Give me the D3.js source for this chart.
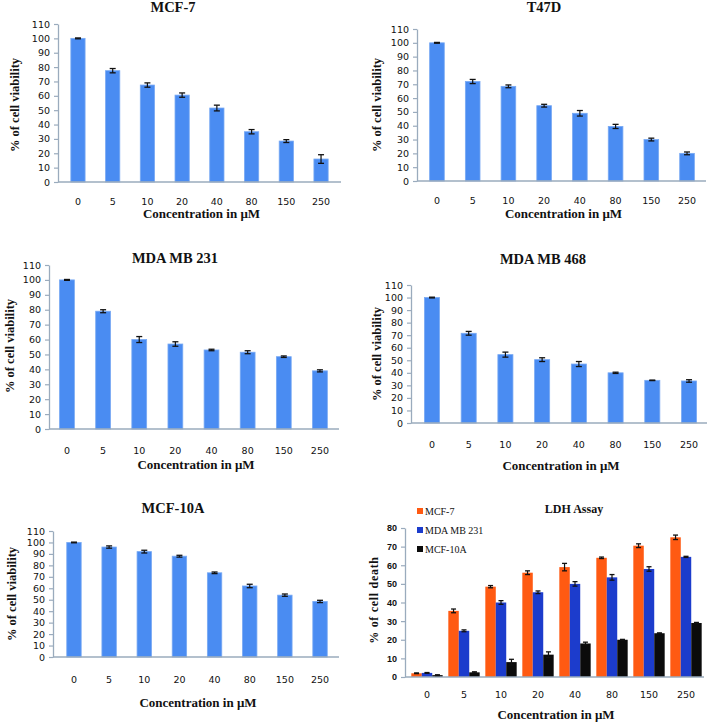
<!DOCTYPE html>
<html><head><meta charset="utf-8">
<script src="https://cdn.jsdelivr.net/npm/d3@7"></script>
<style>body{margin:0;background:#fff}svg{display:block}</style>
</head><body>
<svg id="c" width="709" height="723"></svg>
<script>
// ---- data ----
const concentrations = ["0","5","10","20","40","80","150","250"];
const viabilityTicks = [0,10,20,30,40,50,60,70,80,90,100,110];
const deathTicks = [0,10,20,30,40,50,60,70,80];

const mcf7Values   = [100, 77.5, 67.5, 60.5, 51.5, 35, 28.5, 16];
const mcf7Err      = [0.3, 1.5, 1.5, 1.5, 2, 1.5, 1, 3];
const t47dValues   = [100, 72, 68.5, 54.5, 49, 39.5, 30, 20];
const t47dErr      = [0.3, 1.5, 1, 1, 2, 1.5, 1, 1];
const mda231Values = [100, 79, 60, 57, 53, 51.5, 48.5, 39];
const mda231Err    = [0.3, 1, 2, 1.5, 0.5, 1, 0.5, 0.7];
const mda468Values = [100, 71.5, 54.5, 50.5, 47, 40, 34, 33.5];
const mda468Err    = [0.3, 1.5, 2, 1.5, 2, 0.5, 0.2, 1];
const mcf10aValues = [100, 96, 92, 88, 73.5, 62, 54, 48.5];
const mcf10aErr    = [0.3, 1, 1.2, 0.8, 0.7, 1.5, 1, 1];

const ldhSeries = ["MCF-7", "MDA MB 231", "MCF-10A"];
const ldhMcf7     = [2, 35.5, 48.5, 56, 59, 64, 70.5, 75];
const ldhMcf7Err  = [0.2, 1, 0.6, 1, 2, 0.4, 1, 1.2];
const ldhMda231    = [2.2, 24.8, 40, 45.5, 50, 53.5, 58, 64.5];
const ldhMda231Err = [0.2, 0.5, 1, 0.7, 1.2, 1.5, 1.2, 0.3];
const ldhMcf10a    = [1, 2.5, 8, 12, 18, 20, 23.5, 29];
const ldhMcf10aErr = [0.2, 0.3, 1.5, 1.5, 0.7, 0.2, 0.2, 0.3];

// ---- layout / style ----
const BAR = "#4a8cf2", BAR_EDGE = "#78a9f3", AXIS = "#9aabbd";
const SERIES_COLORS = ["#ff5a12", "#1c3ccc", "#0b0b0b"];
const svg = d3.select("#c");

const panels = [
  {title:"MCF-7", vals:mcf7Values, err:mcf7Err, x0:58, x1:341, band:[60.6,338.4], yTop:24, yBot:182,
   tx:173, ty:12, tickY:205, xtY:218, ytX:19, ytY:105},
  {title:"T47D", vals:t47dValues, err:t47dErr, x0:417, x1:706, band:[419.1,704.9], yTop:29, yBot:181,
   tx:544, ty:12, tickY:204, xtY:218, ytX:381, ytY:105},
  {title:"MDA MB 231", vals:mda231Values, err:mda231Err, x0:49, x1:339, band:[48.9,338], yTop:265, yBot:429,
   tx:175, ty:263, tickY:454, xtY:469, ytX:14, ytY:346},
  {title:"MDA MB 468", vals:mda468Values, err:mda468Err, x0:411, x1:707, band:[413.6,707.4], yTop:285, yBot:423,
   tx:543, ty:264, tickY:448, xtY:470, ytX:381, ytY:354},
  {title:"MCF-10A", vals:mcf10aValues, err:mcf10aErr, x0:53, x1:339, band:[56.4,337.6], yTop:531, yBot:657,
   tx:173, ty:513, tickY:683, xtY:707, ytX:16, ytY:594},
];

function drawAxes(g, p, y, ticks, tickFont) {
  const ya = g.append("g").attr("transform", `translate(${p.x0},0)`)
    .call(d3.axisLeft(y).tickValues(ticks).tickSize(4).tickPadding(4).tickSizeOuter(0));
  ya.select(".domain").attr("stroke", AXIS).attr("stroke-width", 1.3);
  ya.selectAll(".tick line").attr("stroke", AXIS).attr("stroke-width", 1.2);
  ya.selectAll(".tick text").attr("fill", "#111").style("font", tickFont);
  g.append("line").attr("x1", p.x0).attr("x2", p.x1).attr("y1", p.yBot).attr("y2", p.yBot)
    .attr("stroke", AXIS).attr("stroke-width", 1.3);
}

function labels(g, p, ytitle, ytSize, ls) {
  g.append("text").attr("x", p.tx).attr("y", p.ty).attr("text-anchor", "middle")
    .style("font", "bold 14.5px 'Liberation Serif', serif").attr("fill", "#111").text(p.title);
  g.append("text").attr("x", (p.x0 + p.x1) / 2 + 2).attr("y", p.xtY).attr("text-anchor", "middle")
    .style("font", "bold 13px 'Liberation Serif', serif").attr("fill", "#111").text("Concentration in μM");
  g.append("text").attr("transform", `translate(${p.ytX},${p.ytY}) rotate(-90)`).attr("text-anchor", "middle")
    .style("font", `bold ${ytSize}px 'Liberation Serif', serif`).style("letter-spacing", ls || "0px")
    .attr("fill", "#111").text(ytitle);
}

function errBars(g, xs, ys, vals, errs, cap) {
  vals.forEach((v, i) => {
    const cx = xs(i), e = errs[i];
    const top = ys(v + e), bot = ys(v - e);
    g.append("line").attr("x1", cx).attr("x2", cx).attr("y1", top).attr("y2", bot).attr("stroke", "#111").attr("stroke-width", 1.2);
    [top, bot].forEach(yy => g.append("line").attr("x1", cx - cap).attr("x2", cx + cap).attr("y1", yy).attr("y2", yy)
      .attr("stroke", "#111").attr("stroke-width", 1.3));
  });
}

panels.forEach(p => {
  const g = svg.append("g");
  const x = d3.scaleBand().domain(concentrations).range(p.band).paddingInner(0.59).paddingOuter(0.295);
  const y = d3.scaleLinear().domain([0, 110]).range([p.yBot, p.yTop]);
  g.selectAll("rect.bar").data(p.vals).join("rect").attr("class", "bar")
    .attr("x", (d, i) => x(concentrations[i])).attr("width", x.bandwidth())
    .attr("y", d => y(d)).attr("height", d => y(0) - y(d))
    .attr("fill", BAR).attr("stroke", BAR_EDGE).attr("stroke-width", 0.8);
  drawAxes(g, p, y, viabilityTicks, "9.5px 'DejaVu Sans', sans-serif");
  g.selectAll("text.xt").data(concentrations).join("text").attr("class", "xt")
    .attr("x", d => x(d) + x.bandwidth() / 2).attr("y", p.tickY).attr("text-anchor", "middle")
    .style("font", "9.5px 'DejaVu Sans', sans-serif").attr("fill", "#111").text(d => d);
  errBars(g, i => x(concentrations[i]) + x.bandwidth() / 2, y, p.vals, p.err, 3);
  labels(g, p, "% of cell viability", 12.5);
});

// ---- LDH grouped bar chart ----
(function () {
  const p = {title:"LDH Assay", x0:405, x1:704, yTop:528, yBot:677, tx:574, ty:513, xtY:719, ytX:378, ytY:600};
  const g = svg.append("g");
  const seriesVals = [ldhMcf7, ldhMda231, ldhMcf10a];
  const seriesErr = [ldhMcf7Err, ldhMda231Err, ldhMcf10aErr];
  const x = d3.scaleBand().domain(concentrations).range([408.5, 704.5]).padding(0);
  const xi = d3.scaleBand().domain(ldhSeries).range([0, x.bandwidth()]).paddingInner(0).paddingOuter(0.27);
  const y = d3.scaleLinear().domain([0, 80]).range([p.yBot, p.yTop]);
  ldhSeries.forEach((s, si) => {
    g.selectAll(null).data(seriesVals[si]).join("rect")
      .attr("x", (d, i) => x(concentrations[i]) + xi(s)).attr("width", xi.bandwidth())
      .attr("y", d => y(d)).attr("height", d => y(0) - y(d)).attr("fill", SERIES_COLORS[si]);
  });
  drawAxes(g, p, y, deathTicks, "bold 9px 'Liberation Sans', sans-serif");
  g.selectAll("text.xt").data(concentrations).join("text").attr("class", "xt")
    .attr("x", d => x(d) + x.bandwidth() / 2).attr("y", 698).attr("text-anchor", "middle")
    .style("font", "9.5px 'DejaVu Sans', sans-serif").attr("fill", "#111").text(d => d);
  ldhSeries.forEach((s, si) => {
    errBars(g, i => x(concentrations[i]) + xi(s) + xi.bandwidth() / 2, y, seriesVals[si], seriesErr[si], 2.5);
  });
  g.append("text").attr("x", p.tx).attr("y", p.ty).attr("text-anchor", "middle")
    .style("font", "bold 12px 'Liberation Serif', serif").attr("fill", "#111").text(p.title);
  g.append("text").attr("x", 556).attr("y", p.xtY).attr("text-anchor", "middle")
    .style("font", "bold 13px 'Liberation Serif', serif").attr("fill", "#111").text("Concentration in μM");
  g.append("text").attr("transform", `translate(${p.ytX},${p.ytY}) rotate(-90)`).attr("text-anchor", "middle")
    .style("font", "bold 12px 'Liberation Serif', serif").style("letter-spacing", "0.7px")
    .attr("fill", "#111").text("% of cell death");
  // legend
  const legY = [511, 530, 549];
  ldhSeries.forEach((s, si) => {
    g.append("rect").attr("x", 417).attr("y", legY[si] - 3).attr("width", 6).attr("height", 6).attr("fill", SERIES_COLORS[si]);
    g.append("text").attr("x", 425).attr("y", legY[si] + 3.5)
      .style("font", "10px 'Liberation Serif', serif").attr("fill", "#111").text(s);
  });
})();
</script>
</body></html>
